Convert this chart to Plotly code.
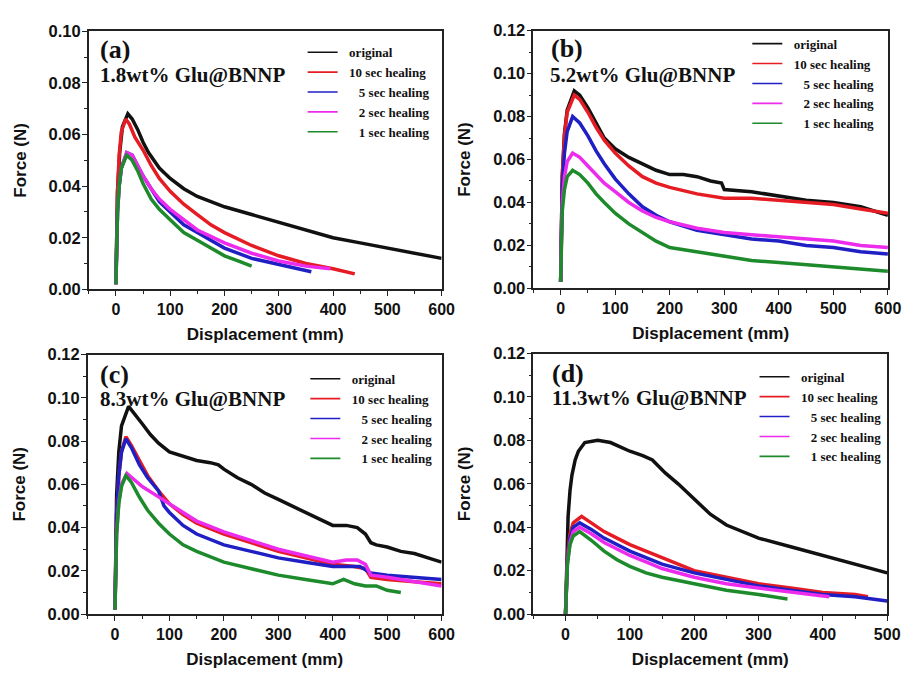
import plotly.graph_objects as go

# ---------------- DATA ----------------
series_names = ["original", "10 sec healing", "5 sec healing", "2 sec healing", "1 sec healing"]
NB = "\u00a0"
legend_labels = [NB * 2 + "original", NB * 2 + "10 sec healing", NB * 5 + "5 sec healing",
                 NB * 5 + "2 sec healing", NB * 5 + "1 sec healing"]
series_colors = ["#111111", "#e51c23", "#1f1fc4", "#ec2bec", "#1d8a2c"]

panel_labels = ["(a)", "(b)", "(c)", "(d)"]
panel_samples = ["1.8wt% Glu@BNNP", "5.2wt% Glu@BNNP", "8.3wt% Glu@BNNP", "11.3wt% Glu@BNNP"]

# Panel (a) 1.8 wt%
a_orig_x = [0, 1, 3, 7, 12, 22, 30, 40, 50, 60, 80, 100, 125, 150, 175, 200, 250, 300, 350, 400, 450, 500, 550, 600]
a_orig_y = [0.002, 0.022, 0.038, 0.053, 0.063, 0.068, 0.066, 0.062, 0.057, 0.053, 0.047, 0.043, 0.039, 0.036, 0.034, 0.032, 0.029, 0.026, 0.023, 0.020, 0.018, 0.016, 0.014, 0.012]
a_10s_x = [0, 1, 3, 6, 10, 18, 25, 35, 50, 65, 80, 100, 125, 150, 175, 200, 250, 300, 350, 400, 440]
a_10s_y = [0.002, 0.022, 0.038, 0.052, 0.061, 0.066, 0.064, 0.059, 0.054, 0.048, 0.043, 0.038, 0.033, 0.029, 0.025, 0.022, 0.017, 0.013, 0.010, 0.008, 0.006]
a_5s_x = [0, 1, 3, 6, 10, 20, 30, 40, 50, 65, 80, 100, 125, 150, 200, 250, 300, 360]
a_5s_y = [0.002, 0.018, 0.030, 0.040, 0.047, 0.053, 0.052, 0.048, 0.044, 0.039, 0.034, 0.030, 0.025, 0.022, 0.016, 0.012, 0.0095, 0.0068]
a_2s_x = [0, 1, 3, 6, 10, 20, 30, 40, 50, 65, 80, 100, 125, 150, 200, 250, 300, 350, 395]
a_2s_y = [0.002, 0.018, 0.030, 0.040, 0.047, 0.053, 0.052, 0.048, 0.044, 0.039, 0.035, 0.031, 0.027, 0.023, 0.018, 0.014, 0.011, 0.009, 0.008]
a_1s_x = [0, 1, 3, 6, 10, 20, 30, 40, 50, 65, 80, 100, 125, 150, 175, 200, 225, 250]
a_1s_y = [0.002, 0.018, 0.030, 0.040, 0.047, 0.052, 0.050, 0.046, 0.041, 0.035, 0.031, 0.027, 0.022, 0.019, 0.016, 0.013, 0.011, 0.009]

# Panel (b) 5.2 wt%
b_orig_x = [0, 1, 3, 7, 12, 25, 35, 50, 65, 80, 100, 125, 150, 175, 200, 225, 250, 275, 295, 300, 350, 400, 450, 500, 550, 600]
b_orig_y = [0.003, 0.030, 0.052, 0.072, 0.083, 0.092, 0.090, 0.084, 0.077, 0.070, 0.065, 0.061, 0.058, 0.055, 0.053, 0.053, 0.052, 0.050, 0.049, 0.046, 0.045, 0.043, 0.041, 0.040, 0.038, 0.034]
b_10s_x = [0, 1, 3, 7, 12, 25, 35, 50, 65, 80, 100, 125, 150, 175, 200, 250, 300, 350, 400, 450, 500, 550, 600]
b_10s_y = [0.003, 0.030, 0.052, 0.071, 0.082, 0.090, 0.088, 0.082, 0.075, 0.069, 0.063, 0.057, 0.052, 0.049, 0.047, 0.044, 0.042, 0.042, 0.041, 0.040, 0.039, 0.037, 0.035]
b_5s_x = [0, 1, 3, 7, 12, 22, 35, 50, 65, 80, 100, 125, 150, 175, 200, 250, 300, 350, 400, 450, 500, 550, 600]
b_5s_y = [0.003, 0.028, 0.047, 0.063, 0.073, 0.080, 0.077, 0.071, 0.064, 0.058, 0.051, 0.044, 0.038, 0.034, 0.031, 0.027, 0.025, 0.023, 0.022, 0.020, 0.019, 0.017, 0.016]
b_2s_x = [0, 1, 3, 7, 12, 22, 35, 50, 65, 80, 100, 125, 150, 175, 200, 250, 300, 350, 400, 450, 500, 550, 600]
b_2s_y = [0.003, 0.024, 0.040, 0.052, 0.059, 0.063, 0.061, 0.057, 0.053, 0.049, 0.045, 0.040, 0.036, 0.033, 0.031, 0.028, 0.026, 0.025, 0.024, 0.023, 0.022, 0.020, 0.019]
b_1s_x = [0, 1, 3, 7, 12, 22, 35, 50, 65, 80, 100, 125, 150, 175, 200, 250, 300, 350, 400, 450, 500, 550, 600]
b_1s_y = [0.003, 0.022, 0.036, 0.046, 0.052, 0.055, 0.053, 0.049, 0.044, 0.040, 0.035, 0.030, 0.026, 0.022, 0.019, 0.017, 0.015, 0.013, 0.012, 0.011, 0.010, 0.009, 0.008]

# Panel (c) 8.3 wt%
c_orig_x = [0, 1, 3, 7, 12, 25, 35, 50, 65, 80, 100, 125, 150, 175, 190, 200, 225, 250, 275, 300, 325, 350, 375, 400, 425, 445, 460, 470, 480, 500, 525, 550, 575, 600]
c_orig_y = [0.002, 0.030, 0.055, 0.075, 0.087, 0.096, 0.093, 0.088, 0.083, 0.079, 0.075, 0.073, 0.071, 0.070, 0.069, 0.067, 0.063, 0.060, 0.056, 0.053, 0.050, 0.047, 0.044, 0.041, 0.041, 0.040, 0.037, 0.033, 0.032, 0.031, 0.029, 0.028, 0.026, 0.024]
c_10s_x = [0, 1, 3, 7, 12, 20, 30, 45, 60, 80, 100, 125, 150, 200, 250, 300, 350, 400, 440, 460, 470, 500, 550, 600]
c_10s_y = [0.002, 0.026, 0.046, 0.064, 0.075, 0.082, 0.078, 0.071, 0.064, 0.057, 0.051, 0.046, 0.042, 0.037, 0.033, 0.029, 0.026, 0.023, 0.022, 0.021, 0.017, 0.016, 0.015, 0.014]
c_5s_x = [0, 1, 3, 7, 12, 20, 30, 45, 60, 80, 90, 100, 125, 150, 200, 250, 300, 350, 400, 450, 470, 500, 550, 600]
c_5s_y = [0.002, 0.026, 0.046, 0.064, 0.075, 0.081, 0.077, 0.069, 0.063, 0.057, 0.050, 0.047, 0.041, 0.037, 0.032, 0.029, 0.026, 0.024, 0.022, 0.022, 0.019, 0.018, 0.017, 0.016]
c_2s_x = [0, 1, 3, 7, 12, 22, 35, 50, 75, 100, 125, 150, 200, 250, 300, 350, 400, 425, 445, 460, 470, 500, 550, 600]
c_2s_y = [0.002, 0.021, 0.037, 0.052, 0.060, 0.065, 0.062, 0.059, 0.055, 0.051, 0.047, 0.043, 0.038, 0.034, 0.030, 0.027, 0.024, 0.025, 0.025, 0.023, 0.018, 0.017, 0.015, 0.013]
c_1s_x = [0, 1, 3, 7, 12, 20, 30, 45, 60, 80, 100, 125, 150, 200, 250, 300, 350, 400, 420, 440, 460, 480, 500, 525]
c_1s_y = [0.002, 0.021, 0.037, 0.051, 0.059, 0.064, 0.061, 0.054, 0.048, 0.042, 0.037, 0.032, 0.029, 0.024, 0.021, 0.018, 0.016, 0.014, 0.016, 0.014, 0.013, 0.013, 0.011, 0.010]

# Panel (d) 11.3 wt%
d_orig_x = [0, 1, 2, 4, 7, 10, 15, 20, 30, 50, 70, 100, 120, 135, 145, 155, 175, 200, 225, 250, 275, 300, 350, 400, 450, 500]
d_orig_y = [0.0, 0.015, 0.030, 0.045, 0.057, 0.064, 0.071, 0.075, 0.079, 0.080, 0.079, 0.075, 0.073, 0.071, 0.068, 0.065, 0.060, 0.053, 0.046, 0.041, 0.038, 0.035, 0.031, 0.027, 0.023, 0.019]
d_10s_x = [0, 1, 3, 7, 12, 25, 40, 60, 80, 100, 125, 150, 200, 250, 300, 350, 400, 450, 470]
d_10s_y = [0.0, 0.015, 0.027, 0.037, 0.042, 0.045, 0.042, 0.038, 0.035, 0.032, 0.029, 0.026, 0.020, 0.017, 0.014, 0.012, 0.010, 0.009, 0.008]
d_5s_x = [0, 1, 3, 7, 12, 22, 40, 60, 80, 100, 125, 150, 200, 250, 300, 350, 400, 450, 500]
d_5s_y = [0.0, 0.014, 0.025, 0.035, 0.040, 0.042, 0.039, 0.035, 0.032, 0.029, 0.026, 0.023, 0.019, 0.016, 0.013, 0.011, 0.009, 0.008, 0.006]
d_2s_x = [0, 1, 3, 7, 12, 22, 40, 60, 80, 100, 125, 150, 200, 250, 300, 350, 410]
d_2s_y = [0.0, 0.013, 0.024, 0.033, 0.038, 0.040, 0.037, 0.033, 0.030, 0.027, 0.024, 0.021, 0.017, 0.014, 0.012, 0.010, 0.008]
d_1s_x = [0, 1, 3, 7, 12, 22, 40, 60, 80, 100, 125, 150, 200, 250, 300, 345]
d_1s_y = [0.0, 0.013, 0.023, 0.032, 0.036, 0.038, 0.034, 0.029, 0.025, 0.022, 0.019, 0.017, 0.014, 0.011, 0.009, 0.007]

x_ranges = [[-50, 600], [-50, 600], [-50, 600], [-50, 500]]
y_ranges = [[0, 0.10], [0, 0.12], [0, 0.12], [0, 0.12]]

panels = [
    [(a_orig_x, a_orig_y), (a_10s_x, a_10s_y), (a_5s_x, a_5s_y), (a_2s_x, a_2s_y), (a_1s_x, a_1s_y)],
    [(b_orig_x, b_orig_y), (b_10s_x, b_10s_y), (b_5s_x, b_5s_y), (b_2s_x, b_2s_y), (b_1s_x, b_1s_y)],
    [(c_orig_x, c_orig_y), (c_10s_x, c_10s_y), (c_5s_x, c_5s_y), (c_2s_x, c_2s_y), (c_1s_x, c_1s_y)],
    [(d_orig_x, d_orig_y), (d_10s_x, d_10s_y), (d_5s_x, d_5s_y), (d_2s_x, d_2s_y), (d_1s_x, d_1s_y)],
]

# ---------------- LAYOUT ----------------
W, H = 915, 675
x_domains = [[0.0984, 0.4896], [0.5913, 0.9844], [0.0973, 0.4896], [0.5913, 0.9836]]
y_domains = [[0.5733, 0.966], [0.5748, 0.967], [0.079, 0.4741], [0.079, 0.4756]]
legend_pos = [(0.3355, 0.957), (0.8285, 0.970), (0.3385, 0.460), (0.8365, 0.463)]
label_pos = [(99, 42), (557, 41), (99, 375), (558, 374)]
sample_pos = [(99, 68), (556, 68), (99, 401), (558, 400)]

SANS = "Liberation Sans, Arial, sans-serif"
SERIF = "Liberation Serif, Times New Roman, serif"

fig = go.Figure()

for p, curves in enumerate(panels):
    sfx = "" if p == 0 else str(p + 1)
    leg = "legend" if p == 0 else f"legend{p + 1}"
    for k, (xs, ys) in enumerate(curves):
        fig.add_trace(go.Scatter(
            x=xs, y=ys, mode="lines", name=series_names[k],
            line=dict(color=series_colors[k], width=3.5),
            xaxis="x" + sfx, yaxis="y" + sfx, showlegend=False,
        ))
    # thin legend entries
    for k in range(len(series_names)):
        fig.add_trace(go.Scatter(
            x=[None], y=[None], mode="lines", name="<b>" + legend_labels[k] + "</b>",
            line=dict(color=series_colors[k], width=1.6),
            xaxis="x" + sfx, yaxis="y" + sfx, legend=leg, showlegend=True,
        ))

layout = dict(
    width=W, height=H,
    margin=dict(l=0, r=0, t=0, b=0),
    paper_bgcolor="white", plot_bgcolor="white",
    showlegend=True,
)

for p in range(4):
    sfx = "" if p == 0 else str(p + 1)
    xa = dict(
        domain=x_domains[p], range=x_ranges[p], anchor="y" + sfx,
        showgrid=False, zeroline=False, showline=True, mirror=True,
        linecolor="#222", linewidth=1.5,
        ticks="outside", ticklen=5, tickwidth=1.3, tickcolor="#222",
        tick0=0, dtick=100,
        minor=dict(ticks="outside", ticklen=3, tickwidth=1.1, tickcolor="#222", dtick=50, tick0=0),
        tickfont=dict(family=SANS, size=16, color="#111", weight="bold"),
        title=dict(text="Displacement (mm)", font=dict(family=SANS, size=17, color="#111", weight="bold"), standoff=11),
    )
    ya = dict(
        domain=y_domains[p], range=y_ranges[p], anchor="x" + sfx,
        showgrid=False, zeroline=False, showline=True, mirror=True,
        linecolor="#222", linewidth=1.5,
        ticks="outside", ticklen=5, tickwidth=1.3, tickcolor="#222",
        tick0=0, dtick=0.02, tickformat=".2f", ticklabelstandoff=-2,
        minor=dict(ticks="outside", ticklen=3, tickwidth=1.1, tickcolor="#222", dtick=0.01, tick0=0),
        tickfont=dict(family=SANS, size=16.5, color="#111", weight="bold"),
        title=dict(text="Force (N)", font=dict(family=SANS, size=17, color="#111", weight="bold"), standoff=18),
    )
    layout["xaxis" + sfx] = xa
    layout["yaxis" + sfx] = ya
    leg = "legend" if p == 0 else f"legend{p + 1}"
    layout[leg] = dict(
        x=legend_pos[p][0], y=legend_pos[p][1], xanchor="left", yanchor="top",
        bgcolor="rgba(0,0,0,0)", borderwidth=0, tracegroupgap=0,
        font=dict(family=SERIF, size=13, color="#111"),
    )

annotations = []
for p in range(4):
    annotations.append(dict(
        xref="paper", yref="paper", x=label_pos[p][0] / W, y=1 - label_pos[p][1] / H,
        xanchor="left", yanchor="middle", showarrow=False,
        text="<b>" + panel_labels[p] + "</b>",
        font=dict(family=SERIF, size=26, color="#111"),
    ))
    annotations.append(dict(
        xref="paper", yref="paper", x=sample_pos[p][0] / W, y=1 - sample_pos[p][1] / H,
        xanchor="left", yanchor="middle", showarrow=False,
        text="<b>" + panel_samples[p] + "</b>",
        font=dict(family=SERIF, size=21, color="#111"),
    ))
layout["annotations"] = annotations

fig.update_layout(**layout)
fig.write_html("out.html")
